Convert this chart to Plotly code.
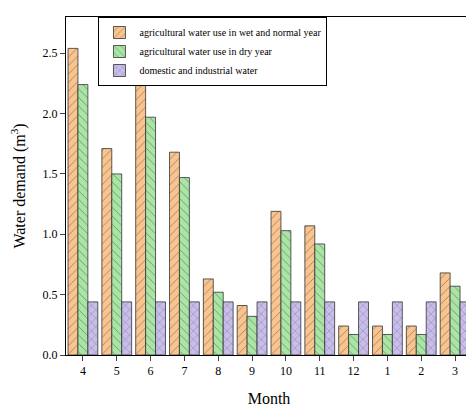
import plotly.graph_objects as go

months = ["4","5","6","7","8","9","10","11","12","1","2","3"]
wet = [2.54,1.71,2.24,1.68,0.63,0.41,1.19,1.07,0.24,0.24,0.24,0.68]
dry = [2.24,1.50,1.97,1.47,0.52,0.32,1.03,0.92,0.17,0.17,0.17,0.57]
dom = [0.44]*12

fig = go.Figure()
specs = [("agricultural water use in wet and normal year", wet, "#FAC48E", "/"),
         ("agricultural water use in dry year", dry, "#A9E5A4", "\\"),
         ("domestic and industrial water", dom, "#C9BDEB", "x")]
for name, vals, col, sh in specs:
    fig.add_bar(x=months, y=vals, name=name,
                marker=dict(color=col, line=dict(color="#333", width=0.8),
                            pattern=dict(shape=sh, fgcolor="#444", size=6, solidity=0.15)))
fig.update_layout(
    width=474, height=407, barmode="group", bargap=0.12, bargroupgap=0,
    plot_bgcolor="white", paper_bgcolor="white",
    font=dict(family="Liberation Serif", size=12, color="black"),
    margin=dict(l=55, r=10, t=8, b=60),
    legend=dict(x=0.08, y=1.0, xanchor="left", yanchor="top", bgcolor="white",
                bordercolor="black", borderwidth=1, font=dict(size=10),
                tracegroupgap=0, itemwidth=30),
    xaxis=dict(title=dict(text="Month", font=dict(size=16)), showline=True, linecolor="black",
               mirror=True, ticks="outside"),
    yaxis=dict(title=dict(text="Water demand (m<sup>3</sup>)", font=dict(size=16)),
               range=[0,2.8], dtick=0.5, tickformat=".1f", showline=True, linecolor="black",
               mirror=True, ticks="outside", showgrid=False, zeroline=False),
)
fig.write_html("out.html")
